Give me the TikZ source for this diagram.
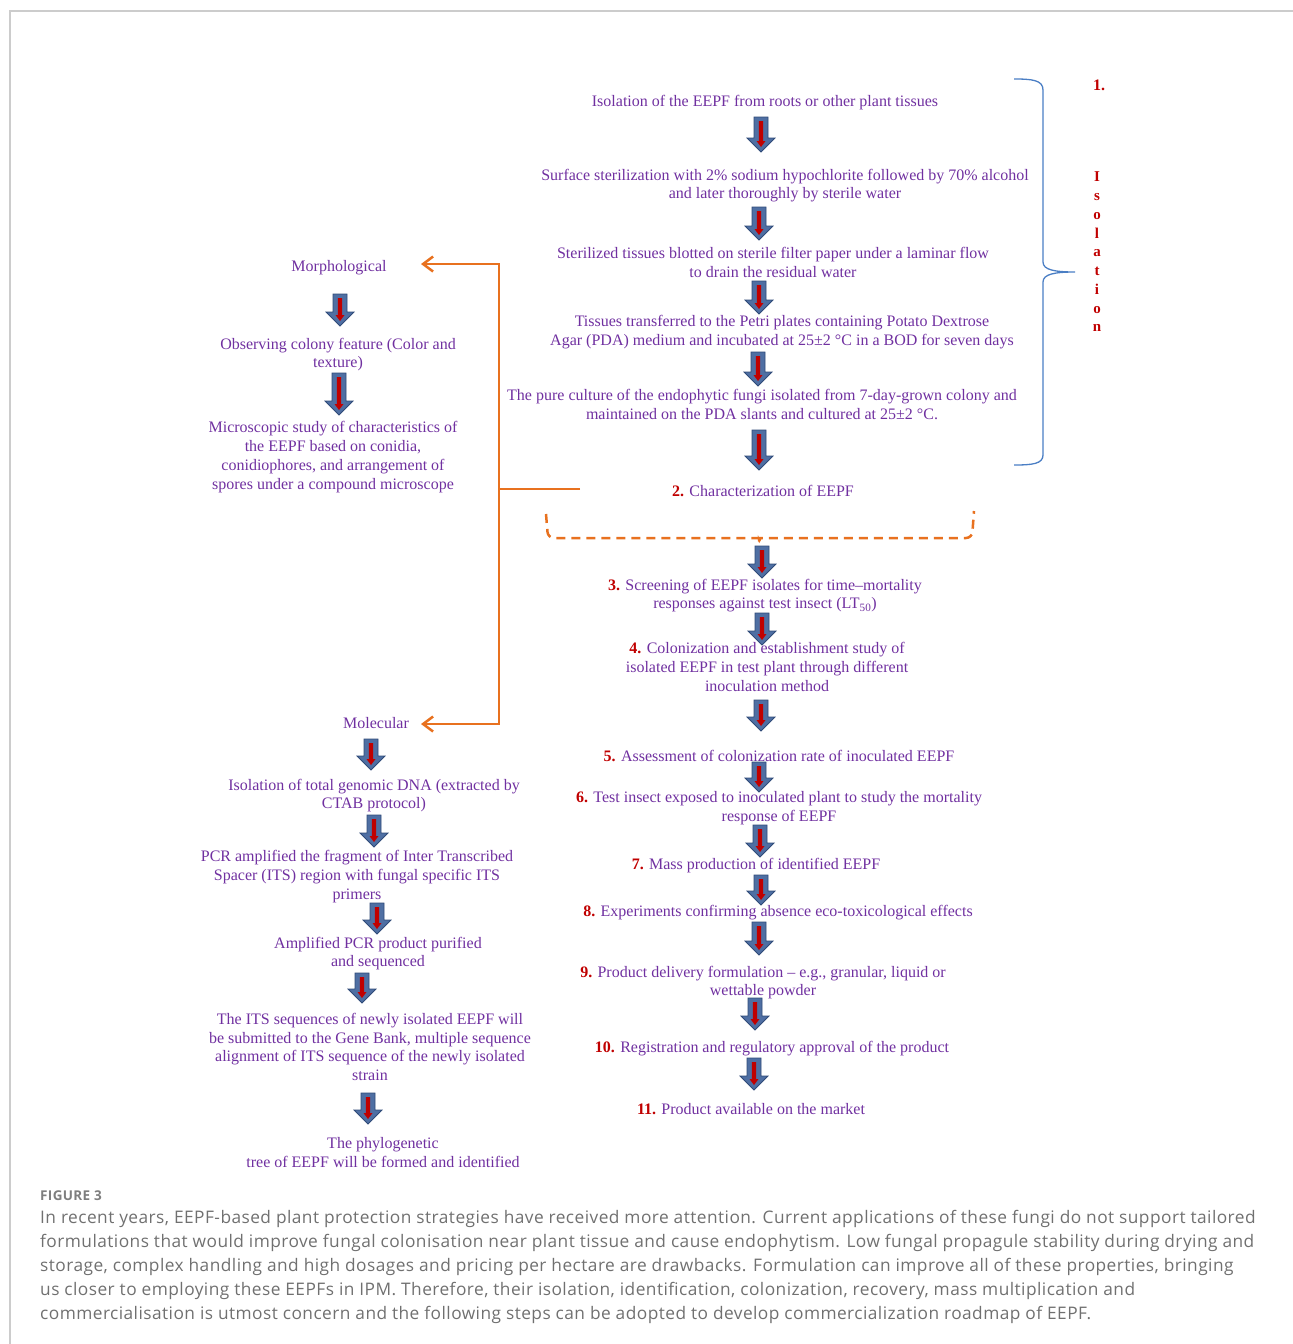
\documentclass[tikz,border=0pt]{standalone}
\usepackage{fontspec}
\setmainfont{Liberation Serif}
\newfontfamily\capfont[LetterSpace=2.6]{Open Sans}
\usetikzlibrary{arrows.meta}
\definecolor{txtpurple}{HTML}{7030A0}
\definecolor{numred}{HTML}{C00000}
\definecolor{arrblue}{HTML}{4F6FA3}
\definecolor{arredge}{HTML}{2F4B78}
\definecolor{orangeln}{HTML}{E8711F}
\definecolor{bracebl}{HTML}{4A7EC4}
\definecolor{capgray}{HTML}{707070}
\definecolor{framegray}{HTML}{CCCCCC}
\newcommand\stepno[1]{\textcolor{numred}{\textbf{#1}}}
\tikzset{
  txt/.style={font=\fontsize{16}{18.8}\selectfont, text=txtpurple, align=center, inner sep=0pt, yshift=-2pt},
  captxt/.style={font=\capfont\fontsize{17.3}{24}\selectfont, text=capgray, inner sep=0pt, anchor=base west},
  oline/.style={draw=orangeln, line width=2.5pt},
  otip/.style={-{Straight Barb[length=10pt,width=15pt]}},
  pics/barrow/.style={code={
    \fill[arrblue, draw=arredge, line width=0.8pt] (-7,0) -- (7,0) -- (7,#1-14) -- (14,#1-14) -- (0,#1) -- (-14,#1-14) -- (-7,#1-14) -- cycle;
    \fill[numred] (-2.2,4) -- (2.2,4) -- (2.2,#1-11) -- (4.5,#1-11) -- (0,#1-5) -- (-4.5,#1-11) -- (-2.2,#1-11) -- cycle;
  }}
}
\begin{document}
\begin{tikzpicture}[x=1pt,y=-1pt]
\useasboundingbox (0,0) rectangle (1293,1344);
% frame
\draw[framegray, line width=1.2pt] (10,1344) -- (10,11) -- (1293,11);

% right column
\node[txt] (iso1) at (765,101) {Isolation of the EEPF from roots or other plant tissues};
\node[txt] (iso2) at (785,183.5) {Surface sterilization with 2\% sodium hypochlorite followed by 70\% alcohol\\and later thoroughly by sterile water};
\node[txt] (iso3) at (773,260.5) {Sterilized tissues blotted on sterile filter paper under a laminar flow\\to drain the residual water};
\node[txt] (iso4) at (782,330) {Tissues transferred to the Petri plates containing Potato Dextrose\\Agar (PDA) medium and incubated at 25±2 °C in a BOD for seven days};
\node[txt] (iso5) at (762,402.5) {The pure culture of the endophytic fungi isolated from 7-day-grown colony and\\maintained on the PDA slants and cultured at 25±2 °C.};
\node[txt] (s2) at (763,489) {\stepno{2.} Characterization of EEPF};
\node[txt] (s3) at (765,593.5) {\stepno{3.} Screening of EEPF isolates for time–mortality\\responses against test insect (LT\textsubscript{50})};
\node[txt] (s4) at (767,665) {\stepno{4.} Colonization and establishment study of\\isolated EEPF in test plant through different\\inoculation method};
\node[txt] (s5) at (779,754) {\stepno{5.} Assessment of colonization rate of inoculated EEPF};
\node[txt] (s6) at (779,806) {\stepno{6.} Test insect exposed to inoculated plant to study the mortality\\response of EEPF};
\node[txt] (s7) at (756,864) {\stepno{7.} Mass production of identified EEPF};
\node[txt] (s8) at (778,911) {\stepno{8.} Experiments confirming absence eco-toxicological effects};
\node[txt] (s9) at (763,980.5) {\stepno{9.} Product delivery formulation – e.g., granular, liquid or\\wettable powder};
\node[txt] (s10) at (772,1047) {\stepno{10.} Registration and regulatory approval of the product};
\node[txt] (s11) at (751,1107) {\stepno{11.} Product available on the market};

% isolation label and brace
\node[txt, text=numred, font=\bfseries\fontsize{16}{18.8}\selectfont] (one) at (1099,83) {1.};
\node[txt, text=numred, font=\bfseries\fontsize{15}{18.75}\selectfont] (isol) at (1097,250) {I\\s\\o\\l\\a\\t\\i\\o\\n};
\draw[bracebl, line width=1.3pt] (1014,79) .. controls (1032,79) and (1043,80) .. (1043,90) -- (1043,262) .. controls (1043,270) and (1055,272) .. (1075,272) .. controls (1055,272) and (1043,274) .. (1043,282) -- (1043,455) .. controls (1043,464) and (1032,465) .. (1014,465);

% left column
\node[txt] (m0) at (339,266) {Morphological};
\node[txt] (m1) at (338,352.5) {Observing colony feature (Color and\\texture)};
\node[txt] (m2) at (333,455) {Microscopic study of characteristics of\\the EEPF based on conidia,\\conidiophores, and arrangement of\\spores under a compound microscope};
\node[txt] (l0) at (376,721) {Molecular};
\node[txt] (l1) at (374,793.5) {Isolation of total genomic DNA (extracted by\\CTAB protocol)};
\node[txt] (l2) at (357,874.5) {PCR amplified the fragment of Inter Transcribed\\Spacer (ITS) region with fungal specific ITS\\primers};
\node[txt] (l3) at (378,951.5) {Amplified PCR product purified\\and sequenced};
\node[txt] (l4) at (370,1045) {The ITS sequences of newly isolated EEPF will\\be submitted to the Gene Bank, multiple sequence\\alignment of ITS sequence of the newly isolated\\strain};
\node[txt] (l5) at (383,1150.5) {The phylogenetic\\tree of EEPF will be formed and identified};

% orange connectors
\coordinate (cj) at (580,489);
\coordinate (vj) at (499,489);
\coordinate (mtip) at (421,264);
\coordinate (ltip) at (421,724);
\draw[oline] (cj) -- (vj);
\draw[oline, otip] (vj) |- (mtip);
\draw[oline, otip] (vj) |- (ltip);
\draw[oline, dash pattern=on 9pt off 6pt, rounded corners=6pt] (546,514) -- (548,538) -- (753,538) .. controls (757,538) and (759,542) .. (759,546) .. controls (759,542) and (761,538) .. (765,538) -- (972,538) -- (974,511);

% block arrows
\foreach \x/\y/\l in {761/117/35, 759/207/33, 759/281/33, 758/352/34, 759/430/40, 762/546/32, 762/613/32, 761/700/31, 759/762/30, 760/825/32, 761/875/30, 759/922/33, 755/998/32, 754/1058/32, 340/294/32, 339/373/42, 371/739/31, 374/815/32, 377/903/31, 362/973/30, 368/1093/31}
  \pic at (\x,\y) {barrow=\l};

% caption
\node[captxt, font=\capfont\bfseries\fontsize{13.5}{16}\selectfont, text=capgray!90] (fig) at (40,1200) {FIGURE 3};
\node[captxt] (c1) at (40,1223) {In recent years, EEPF-based plant protection strategies have received more attention. Current applications of these fungi do not support tailored};
\node[captxt] (c2) at (40,1247) {formulations that would improve fungal colonisation near plant tissue and cause endophytism. Low fungal propagule stability during drying and};
\node[captxt] (c3) at (40,1271) {storage, complex handling and high dosages and pricing per hectare are drawbacks. Formulation can improve all of these properties, bringing};
\node[captxt] (c4) at (40,1295) {us closer to employing these EEPFs in IPM. Therefore, their isolation, identification, colonization, recovery, mass multiplication and};
\node[captxt] (c5) at (40,1319) {commercialisation is utmost concern and the following steps can be adopted to develop commercialization roadmap of EEPF.};
\end{tikzpicture}
\end{document}
